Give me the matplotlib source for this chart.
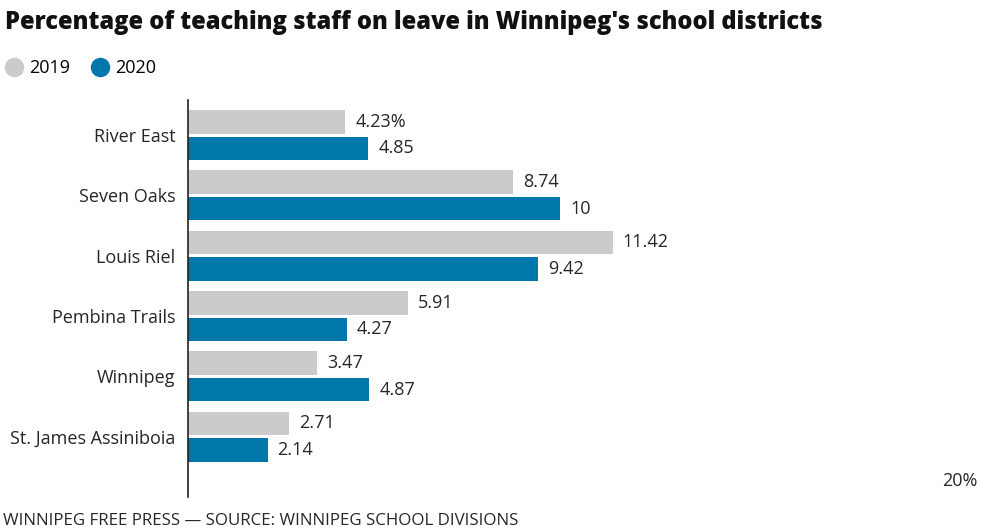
import matplotlib.pyplot as plt
import matplotlib.transforms as mtransforms
from matplotlib.lines import Line2D
import numpy as np

plt.rcParams['font.family'] = ['Open Sans', 'DejaVu Sans']

districts = ['River East', 'Seven Oaks', 'Louis Riel', 'Pembina Trails',
             'Winnipeg', 'St. James Assiniboia']
vals_2019 = [4.23, 8.74, 11.42, 5.91, 3.47, 2.71]
vals_2020 = [4.85, 10, 9.42, 4.27, 4.87, 2.14]
labels_2019 = ['4.23%', '8.74', '11.42', '5.91', '3.47', '2.71']
labels_2020 = ['4.85', '10', '9.42', '4.27', '4.87', '2.14']

c19 = '#cbcbcb'
c20 = '#0077aa'
txt = '#262626'

fig = plt.figure(figsize=(10, 5.31), dpi=100)
ax = fig.add_axes([0.188, 0.064, 0.744, 0.7476])

y = np.arange(len(districts))
h = 0.39
off = 0.22
ax.barh(y - off, vals_2019, height=h, color=c19)
ax.barh(y + off, vals_2020, height=h, color=c20)

pad = mtransforms.offset_copy(ax.transData, fig=fig, x=10, y=0, units='dots')
for i in range(len(districts)):
    ax.text(vals_2019[i], y[i] - off, labels_2019[i], transform=pad,
            va='center', ha='left', fontsize=13, color=txt)
    ax.text(vals_2020[i], y[i] + off, labels_2020[i], transform=pad,
            va='center', ha='left', fontsize=13, color=txt)

ax.set_xlim(0, 20)
ax.set_ylim(6.0, -0.58)
ax.set_yticks(y)
ax.set_yticklabels(districts, fontsize=13, color=txt)
ax.tick_params(axis='y', length=0, pad=9)
ax.set_xticks([])
for s in ['top', 'right', 'bottom']:
    ax.spines[s].set_visible(False)
ax.spines['left'].set_color('#222222')
ax.spines['left'].set_linewidth(1.2)

# axis end label
ax.text(20, 5.74, '20%', transform=mtransforms.offset_copy(ax.transData, fig=fig, x=10, y=0, units='dots'),
        ha='left', va='center', fontsize=13, color=txt)

fig.text(0.005, 0.958, "Percentage of teaching staff on leave in Winnipeg's school districts",
         fontsize=17, fontweight='heavy', color='#111111', va='center', ha='left')

handles = [Line2D([], [], marker='o', ls='', color=c19, markersize=13),
           Line2D([], [], marker='o', ls='', color=c20, markersize=13)]
fig.legend(handles, ['2019', '2020'], loc='center left', bbox_to_anchor=(-0.002, 0.872),
           ncol=2, frameon=False, fontsize=13, handletextpad=0.3, columnspacing=1.2,
           borderaxespad=0, handlelength=1.0)

fig.text(0.003, 0.018, 'WINNIPEG FREE PRESS — SOURCE: WINNIPEG SCHOOL DIVISIONS',
         fontsize=12.2, color=txt, va='center', ha='left')

fig.savefig('out.png', dpi=100)
